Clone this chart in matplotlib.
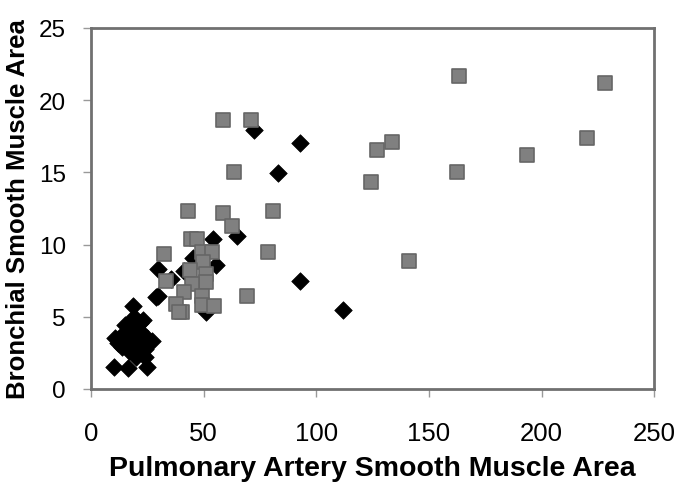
import matplotlib.pyplot as plt

plt.rcParams["font.family"] = ["Liberation Sans", "DejaVu Sans"]

# gray squares
sq_x = [163.4, 228, 133.7, 126.8, 124.1, 193.4, 220.3, 162.5, 141.3,
        58.5, 71.1, 63.4, 43.1, 58.5, 80.7, 62.5, 78.8, 69.1,
        44.3, 47, 49.1, 53.9, 49.6, 44, 51, 51, 45.1, 41.4, 49.1, 49.1, 54.7, 40.6,
        32.5, 33.2, 37.7, 39.1]
sq_y = [21.65, 21.2, 17.1, 16.55, 14.3, 16.2, 17.4, 15.0, 8.86,
        18.65, 18.65, 15.05, 12.3, 12.15, 12.3, 11.3, 9.47, 6.46,
        10.4, 10.4, 9.47, 9.47, 8.77, 8.24, 7.96, 7.39, 7.27, 6.7, 6.46, 5.83, 5.73, 5.31,
        9.35, 7.5, 5.9, 5.31]

# black diamonds
dm_x = [72.4, 92.6, 83, 54.2, 64.7, 55.4, 45.5, 92.6, 111.8, 51, 41.2,
        29.6, 35.5, 29.6, 28.8, 18.5,
        10.3, 16.3, 25.1,
        12, 13, 14, 15, 16, 17, 18, 18, 19, 19, 20, 21, 21, 22, 23, 23, 24, 25,
        17, 20, 15, 22, 24, 10.5, 27]
dm_y = [17.9, 17.06, 14.96, 10.39, 10.57, 8.59, 9.07, 7.46, 5.47, 5.31, 8.2,
        8.3, 7.6, 6.46, 6.35, 5.77,
        1.5, 1.43, 1.5,
        3.2, 3.6, 2.9, 3.9, 3.3, 4.2, 3.7, 4.6, 3.0, 5.0, 4.3, 3.5, 2.6, 4.0, 4.8, 3.2, 2.8, 3.5,
        2.6, 2.2, 4.4, 4.6, 2.2, 3.5, 3.3]

fig = plt.figure(figsize=(6.78, 4.89), dpi=100)
ax = fig.add_axes([0.134, 0.2025, 0.831, 0.7385])

ax.scatter(dm_x, dm_y, marker="D", s=80, color="black", edgecolors="black",
           linewidths=0.5, zorder=3)
ax.scatter(sq_x, sq_y, marker="s", s=110, color="#808080", edgecolors="#666666",
           linewidths=1.2, zorder=4)

ax.set_xlim(0, 250)
ax.set_ylim(0, 25)
ax.set_xticks([0, 50, 100, 150, 200, 250])
ax.set_yticks([0, 5, 10, 15, 20, 25])
for s in ax.spines.values():
    s.set_color("#707070")
    s.set_linewidth(2)
ax.tick_params(direction="out", length=6, width=1, color="#999999", pad=12)
ax.tick_params(axis="x", labelsize=18.5, pad=17)
ax.tick_params(axis="y", labelsize=17.5)
ax.set_xlabel("Pulmonary Artery Smooth Muscle Area", fontsize=20.5,
              fontweight="bold", labelpad=7)
ax.set_ylabel("Bronchial Smooth Muscle Area", fontsize=18.5,
              fontweight="bold", labelpad=6)

fig.savefig("out.png", dpi=100)
